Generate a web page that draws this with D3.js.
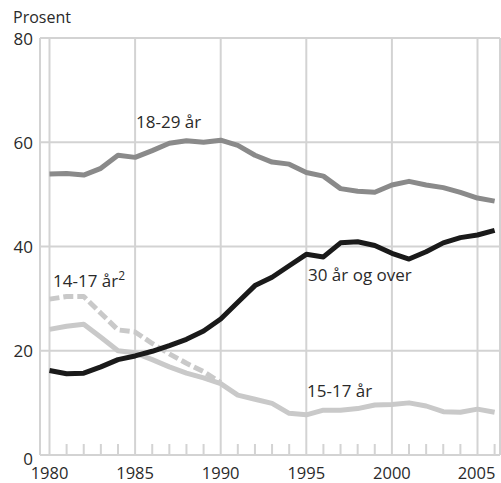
<!DOCTYPE html>
<html>
<head>
<meta charset="utf-8">
<script src="https://cdn.jsdelivr.net/npm/d3@7"></script>
<style>
  html, body { margin: 0; padding: 0; background: #fff; }
  svg { display: block; }
  text { font-family: "Open Sans", "Noto Sans", sans-serif; fill: #2a2a2a; }
</style>
</head>
<body>
<svg id="chart" width="501" height="483"></svg>
<script>
const years = d3.range(1980, 2007);
const age18to29 = [53.9, 54.0, 53.7, 55.0, 57.5, 57.1, 58.4, 59.8, 60.3, 60.0, 60.4, 59.4, 57.5, 56.2, 55.8, 54.2, 53.5, 51.1, 50.6, 50.4, 51.8, 52.5, 51.8, 51.3, 50.4, 49.3, 48.7];
const age30plus = [16.2, 15.6, 15.7, 16.9, 18.3, 19.0, 19.9, 21.0, 22.2, 23.8, 26.1, 29.3, 32.5, 34.1, 36.3, 38.5, 38.0, 40.7, 40.9, 40.2, 38.7, 37.6, 39.0, 40.7, 41.7, 42.2, 43.1];
const age15to17 = [24.1, 24.7, 25.1, 22.6, 20.0, 19.6, 18.3, 16.9, 15.7, 14.8, 13.7, 11.5, 10.7, 9.9, 8.0, 7.7, 8.6, 8.6, 8.9, 9.6, 9.7, 10.0, 9.4, 8.3, 8.2, 8.8, 8.2];
const years14to17 = d3.range(1980, 1991);
const age14to17 = [29.9, 30.4, 30.4, 27.2, 24.0, 23.6, 21.4, 19.4, 17.6, 16.0, 13.9];
const yTicks = [0, 20, 40, 60, 80];
const xTickLabels = [1980, 1985, 1990, 1995, 2000, 2005];

const svg = d3.select("#chart");
const x = d3.scaleLinear().domain([1980, 2005]).range([49.5, 477.5]);
const y = d3.scaleLinear().domain([0, 80]).range([455, 38]);
const left = 40, right = 500;
const grid = "#d3d3d3";

// horizontal grid lines
svg.append("g").selectAll("line").data(yTicks.filter(d => d > 0)).join("line")
  .attr("x1", left).attr("x2", right)
  .attr("y1", d => y(d)).attr("y2", d => y(d))
  .attr("stroke", grid).attr("stroke-width", 2);

// vertical grid lines at labelled years
svg.append("g").selectAll("line").data(xTickLabels).join("line")
  .attr("x1", d => x(d)).attr("x2", d => x(d))
  .attr("y1", y(80)).attr("y2", y(0))
  .attr("stroke", grid).attr("stroke-width", 2);

// frame: left and right
svg.append("line").attr("x1", left).attr("x2", left).attr("y1", y(80)).attr("y2", y(0))
  .attr("stroke", grid).attr("stroke-width", 2);
svg.append("line").attr("x1", right).attr("x2", right).attr("y1", y(80)).attr("y2", y(0))
  .attr("stroke", grid).attr("stroke-width", 2);

// minor year ticks
svg.append("g").selectAll("line").data(years.filter(d => d % 5 !== 0)).join("line")
  .attr("x1", d => x(d)).attr("x2", d => x(d))
  .attr("y1", y(0) - 11).attr("y2", y(0))
  .attr("stroke", grid).attr("stroke-width", 2);

// x axis line
svg.append("line").attr("x1", left).attr("x2", right).attr("y1", y(0)).attr("y2", y(0))
  .attr("stroke", grid).attr("stroke-width", 2);

// y tick labels
svg.append("g").selectAll("text").data(yTicks).join("text")
  .attr("x", 33).attr("y", d => y(d) + (d === 0 ? 3 : 0))
  .attr("text-anchor", "end").attr("dominant-baseline", "central")
  .attr("font-size", 17).text(d => d);

// x tick labels
svg.append("g").selectAll("text").data(xTickLabels).join("text")
  .attr("x", d => x(d) + (d === 2005 ? -1 : 0)).attr("y", 478.5)
  .attr("text-anchor", "middle").attr("font-size", 16.5).text(d => d);

svg.append("text").attr("x", 13).attr("y", 23).attr("font-size", 16).text("Prosent");

const line = d3.line().x(d => x(d[0])).y(d => y(d[1]));

function drawSeries(xs, vals, color, dash) {
  svg.append("path")
    .datum(xs.map((yr, i) => [yr, vals[i]]))
    .attr("d", line)
    .attr("fill", "none")
    .attr("stroke", color)
    .attr("stroke-width", 5)
    .attr("stroke-linejoin", "round")
    .attr("stroke-dasharray", dash || null);
}

drawSeries(years, age15to17, "#c9c9c9");
drawSeries(years14to17, age14to17, "#c9c9c9", "10,4");
drawSeries(years, age18to29, "#8a8a8a");
drawSeries(years, age30plus, "#1a1a1a");

// series labels
svg.append("text").attr("x", 136).attr("y", 128).attr("font-size", 17).text("18-29 år");
svg.append("text").attr("x", 308).attr("y", 281).attr("font-size", 17).text("30 år og over");
svg.append("text").attr("x", 307).attr("y", 397).attr("font-size", 17).text("15-17 år");
const t = svg.append("text").attr("x", 53).attr("y", 287).attr("font-size", 17);
t.append("tspan").text("14-17 år");
t.append("tspan").attr("font-size", 12).attr("dy", -7).text("2");
</script>
</body>
</html>
